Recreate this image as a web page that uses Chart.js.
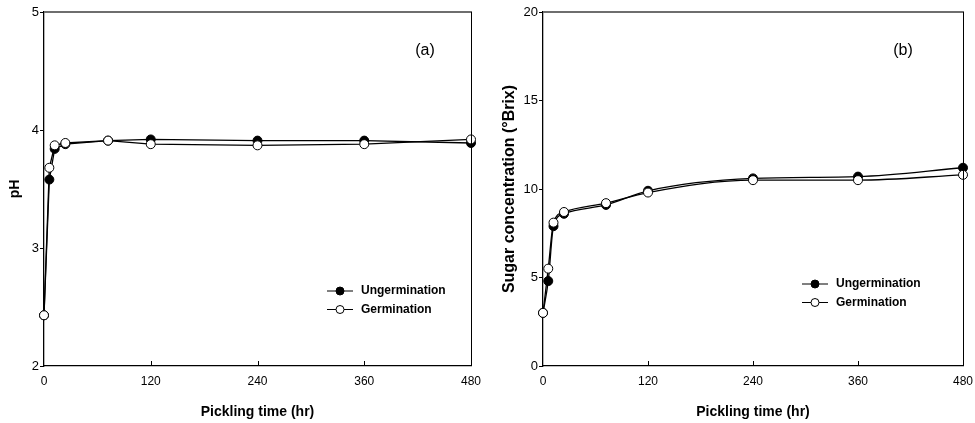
<!DOCTYPE html>
<html>
<head>
<meta charset="utf-8">
<script src="https://cdn.jsdelivr.net/npm/chart.js@4.4.1/dist/chart.umd.min.js"></script>
<style>
  html, body { margin: 0; padding: 0; background: #fff; }
  #wrap { position: relative; width: 975px; height: 423px; }
  #panelA { position: absolute; left: 0; top: 0; }
  #panelB { position: absolute; left: 487px; top: 0; }
</style>
</head>
<body>
<div id="wrap">
  <canvas id="panelA" width="487" height="423"></canvas>
  <canvas id="panelB" width="488" height="423"></canvas>
</div>
<script>
// data
const hours = [0, 6, 12, 24, 72, 120, 240, 360, 480];
const seriesNames = ['Ungermination', 'Germination'];
const phUngerm = [2.43, 3.58, 3.84, 3.88, 3.91, 3.92, 3.91, 3.91, 3.89];
const phGerm = [2.43, 3.68, 3.87, 3.89, 3.91, 3.88, 3.87, 3.88, 3.92];
const brixUngerm = [3.0, 4.8, 7.9, 8.6, 9.1, 9.9, 10.6, 10.7, 11.2];
const brixGerm = [3.0, 5.5, 8.1, 8.7, 9.2, 9.8, 10.5, 10.5, 10.8];
const hourTicks = [0, 120, 240, 360, 480];
const phTicks = [2, 3, 4, 5];
const brixTicks = [0, 5, 10, 15, 20];

const FONT = '"Liberation Sans", Arial, Helvetica, sans-serif';
Chart.defaults.font.family = FONT;
Chart.defaults.color = '#000';

function toPoints(xs, ys) {
  return xs.map(function (x, i) { return { x: x, y: ys[i] }; });
}

// frame: grey top line, black right line, inward x ticks, panel letter
const framePlugin = {
  id: 'frame',
  afterDraw(chart, args, opts) {
    const ctx = chart.ctx;
    const a = chart.chartArea;
    const xs = chart.scales.x;
    ctx.save();
    ctx.strokeStyle = '#6e6e6e';
    ctx.lineWidth = 2;
    ctx.beginPath();
    ctx.moveTo(a.left, a.top);
    ctx.lineTo(a.right + 1, a.top);
    ctx.stroke();
    ctx.strokeStyle = '#000';
    ctx.lineWidth = 1;
    ctx.beginPath();
    ctx.moveTo(a.right + 0.5, a.top);
    ctx.lineTo(a.right + 0.5, a.bottom);
    ctx.stroke();
    hourTicks.slice(1, -1).forEach(function (v) {
      const px = Math.round(xs.getPixelForValue(v)) + 0.5;
      ctx.beginPath();
      ctx.moveTo(px, a.bottom);
      ctx.lineTo(px, a.bottom - 5);
      ctx.stroke();
    });
    ctx.fillStyle = '#000';
    ctx.font = '16px ' + FONT;
    ctx.textAlign = 'center';
    ctx.textBaseline = 'middle';
    ctx.fillText(opts.label, opts.labelX, opts.labelY);
    ctx.restore();
  }
};

// legend drawn inside the plot area
const insideLegend = {
  id: 'insideLegend',
  afterDraw(chart, args, opts) {
    const ctx = chart.ctx;
    ctx.save();
    ctx.font = 'bold 12px ' + FONT;
    ctx.textBaseline = 'middle';
    ctx.textAlign = 'left';
    chart.data.datasets.forEach(function (ds, i) {
      const y = opts.y + i * opts.rowGap;
      ctx.strokeStyle = '#000';
      ctx.lineWidth = 1;
      ctx.beginPath();
      ctx.moveTo(opts.x, y);
      ctx.lineTo(opts.x + 26, y);
      ctx.stroke();
      ctx.beginPath();
      ctx.arc(opts.x + 13, y, 4, 0, Math.PI * 2);
      ctx.fillStyle = ds.pointBackgroundColor;
      ctx.fill();
      ctx.stroke();
      ctx.fillStyle = '#000';
      ctx.fillText(ds.label, opts.x + 34, y);
    });
    ctx.restore();
  }
};

function makeChart(el, cfg) {
  const datasets = [
    {
      label: seriesNames[0],
      data: toPoints(hours, cfg.ungerm),
      borderColor: '#000',
      borderWidth: 1.3,
      pointBackgroundColor: '#000',
      pointBorderColor: '#000',
      pointBorderWidth: 1,
      pointRadius: 4.5,
      tension: cfg.tension,
      cubicInterpolationMode: cfg.cubic,
      order: 1
    },
    {
      label: seriesNames[1],
      data: toPoints(hours, cfg.germ),
      borderColor: '#000',
      borderWidth: 1.3,
      pointBackgroundColor: '#fff',
      pointBorderColor: '#000',
      pointBorderWidth: 1,
      pointRadius: 4.5,
      tension: cfg.tension,
      cubicInterpolationMode: cfg.cubic,
      order: 0
    }
  ];

  return new Chart(el.getContext('2d'), {
    type: 'line',
    data: { datasets: datasets },
    plugins: [framePlugin, insideLegend],
    options: {
      responsive: false,
      animation: false,
      clip: false,
      layout: { padding: { left: 0, top: 12, right: cfg.padRight, bottom: 0 } },
      plugins: {
        legend: { display: false },
        tooltip: { enabled: false },
        frame: { label: cfg.panel, labelX: cfg.labelX, labelY: 51 },
        insideLegend: { x: cfg.legX, y: cfg.legY, rowGap: 18.5 }
      },
      scales: {
        x: {
          type: 'linear',
          min: 0,
          max: 480,
          afterBuildTicks: function (s) { s.ticks = hourTicks.map(function (v) { return { value: v }; }); },
          afterFit: function (s) { s.height = 57; s.paddingLeft = 0; s.paddingRight = 0; },
          grid: { drawOnChartArea: false, drawTicks: false },
          border: { color: '#000', width: 1.3 },
          ticks: { padding: 8, font: { size: 12 }, color: '#000' },
          title: {
            display: true,
            text: 'Pickling time (hr)',
            font: { size: 14, weight: 'bold' },
            color: '#000',
            padding: { top: 0, bottom: 2 }
          }
        },
        y: {
          min: cfg.yTicks[0],
          max: cfg.yTicks[cfg.yTicks.length - 1],
          afterBuildTicks: function (s) { s.ticks = cfg.yTicks.map(function (v) { return { value: v }; }); },
          afterFit: function (s) { s.width = cfg.yWidth; s.paddingTop = 0; s.paddingBottom = 0; },
          grid: { drawOnChartArea: false, tickLength: 4, color: '#000' },
          border: { color: '#000', width: 1.3 },
          ticks: { padding: 1, font: { size: 13 }, color: '#000' },
          title: {
            display: true,
            text: cfg.yTitle,
            font: { size: cfg.yTitleSize, weight: 'bold' },
            color: '#000',
            padding: { top: cfg.yTitlePad, bottom: 0 }
          }
        }
      }
    }
  });
}

makeChart(document.getElementById('panelA'), {
  ungerm: phUngerm,
  germ: phGerm,
  yTicks: phTicks,
  yTitle: 'pH',
  yTitleSize: 14,
  yTitlePad: 7,
  yWidth: 44,
  padRight: 16,
  tension: 0,
  cubic: 'default',
  panel: '(a)',
  labelX: 425,
  legX: 327,
  legY: 291
});

makeChart(document.getElementById('panelB'), {
  ungerm: brixUngerm,
  germ: brixGerm,
  yTicks: brixTicks,
  yTitle: 'Sugar concentration (\u00B0Brix)',
  yTitleSize: 16,
  yTitlePad: 13,
  yWidth: 56,
  padRight: 12,
  tension: 0.4,
  cubic: 'monotone',
  panel: '(b)',
  labelX: 416,
  legX: 315,
  legY: 284
});
</script>
</body>
</html>
